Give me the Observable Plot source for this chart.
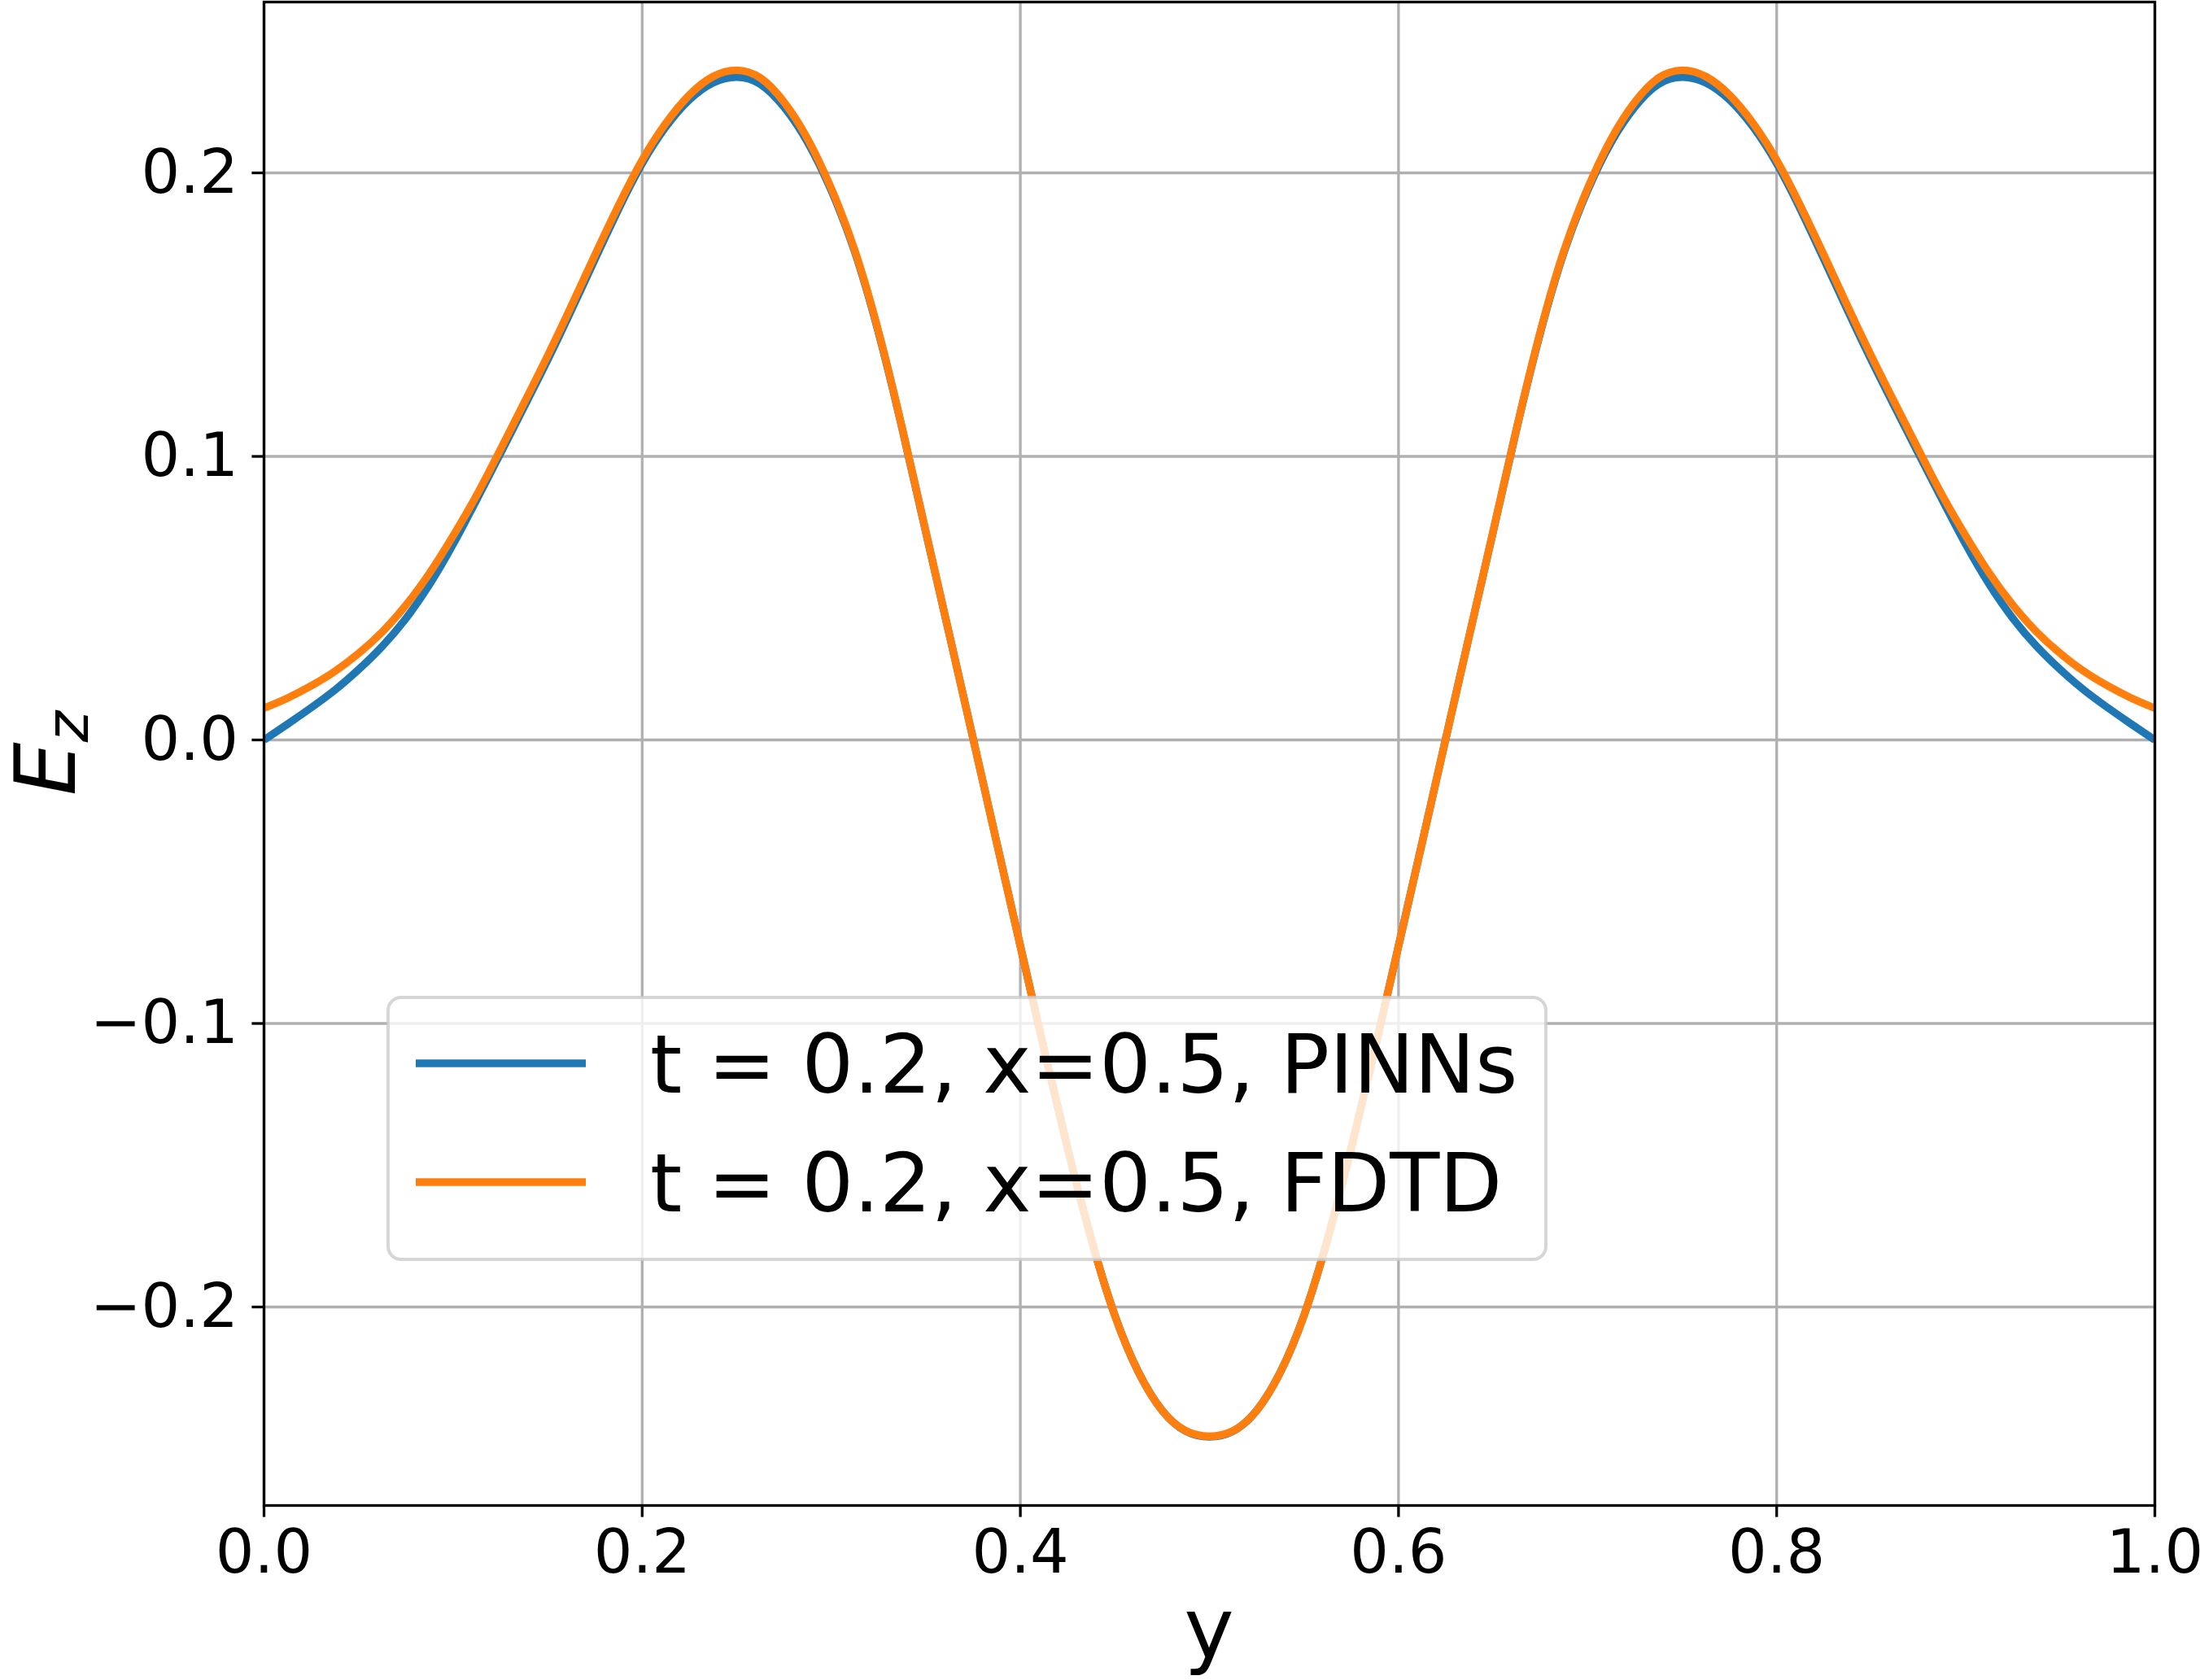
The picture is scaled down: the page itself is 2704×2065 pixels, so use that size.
<!DOCTYPE html>
<html><head><meta charset="utf-8">
<script src="https://cdn.jsdelivr.net/npm/d3@7"></script>
<script src="https://cdn.jsdelivr.net/npm/@observablehq/plot@0.6"></script>
<style>html,body{margin:0;padding:0;background:#fff;overflow:hidden;} #chart{width:2704px;height:2065px;}</style>
</head><body><div id="chart"></div>
<script>
// ---- data ----
const yPos = [0.0000,0.0125,0.0250,0.0375,0.0500,0.0625,0.0750,0.0875,0.1000,0.1125,0.1250,0.1375,0.1500,0.1625,0.1750,0.1875,0.2000,0.2125,0.2250,0.2375,
              0.2500,0.2625,0.2750,0.2875,0.3000,0.3125,0.3250,0.3375,0.3500,0.3625,0.3750,0.3875,0.4000,0.4125,0.4250,0.4375,0.4500,0.4625,0.4750,0.4875,
              0.5000,0.5125,0.5250,0.5375,0.5500,0.5625,0.5750,0.5875,0.6000,0.6125,0.6250,0.6375,0.6500,0.6625,0.6750,0.6875,0.7000,0.7125,0.7250,0.7375,
              0.7500,0.7625,0.7750,0.7875,0.8000,0.8125,0.8250,0.8375,0.8500,0.8625,0.8750,0.8875,0.9000,0.9125,0.9250,0.9375,0.9500,0.9625,0.9750,0.9875,1.0000];
const pinns = [0.0000,0.0056,0.0114,0.0176,0.0248,0.0330,0.0428,0.0548,0.0690,0.0848,0.1010,0.1174,0.1340,0.1515,0.1695,0.1872,0.2033,0.2162,0.2258,0.2318,
               0.2338,0.2313,0.2232,0.2108,0.1938,0.1720,0.1436,0.1098,0.0733,0.0370,0.0005,-0.0362,-0.0727,-0.1090,-0.1440,-0.1760,-0.2030,-0.2230,-0.2365,-0.2438,
               -0.2458,-0.2438,-0.2365,-0.2230,-0.2030,-0.1760,-0.1440,-0.1090,-0.0727,-0.0362,0.0005,0.0370,0.0733,0.1098,0.1436,0.1720,0.1938,0.2108,0.2232,0.2313,
               0.2338,0.2318,0.2258,0.2162,0.2033,0.1872,0.1695,0.1515,0.1340,0.1174,0.1010,0.0848,0.0690,0.0548,0.0428,0.0330,0.0248,0.0176,0.0114,0.0056,0.0000];
const fdtd = [0.0112,0.0148,0.0191,0.0242,0.0305,0.0381,0.0475,0.0588,0.0720,0.0864,0.1024,0.1188,0.1355,0.1530,0.1710,0.1885,0.2045,0.2175,0.2275,0.2340,
              0.2362,0.2335,0.2250,0.2120,0.1945,0.1725,0.1440,0.1100,0.0735,0.0370,0.0005,-0.0362,-0.0727,-0.1090,-0.1440,-0.1760,-0.2030,-0.2230,-0.2365,-0.2437,
              -0.2456,-0.2437,-0.2365,-0.2230,-0.2030,-0.1760,-0.1440,-0.1090,-0.0727,-0.0362,0.0005,0.0370,0.0735,0.1100,0.1440,0.1725,0.1945,0.2120,0.2250,0.2335,
              0.2362,0.2340,0.2275,0.2175,0.2045,0.1885,0.1710,0.1530,0.1355,0.1188,0.1024,0.0864,0.0720,0.0588,0.0475,0.0381,0.0305,0.0242,0.0191,0.0148,0.0112];
const seriesNames = ["t = 0.2, x=0.5, PINNs", "t = 0.2, x=0.5, FDTD"];
const seriesColors = ["#1f77b4", "#ff7f0e"];
const xTicks = [0, 0.2, 0.4, 0.6, 0.8, 1.0];
const yTicks = [-0.2, -0.1, 0.0, 0.1, 0.2];
const xDomain = [0, 1];
const yDomain = [-0.27001, 0.26026];
const xLabel = "y";
const yLabelMain = "E", yLabelSub = "z";

// ---- build table ----
const rows = [];
[pinns, fdtd].forEach((vals, k) => {
  yPos.forEach((p, i) => rows.push({pos: p, val: vals[i], series: seriesNames[k]}));
});

const W = 2704, H = 2065;
const mL = 324, mR = 56, mT = 2, mB = 215;

const chart = Plot.plot({
  width: W, height: H,
  marginLeft: mL, marginRight: mR, marginTop: mT, marginBottom: mB,
  style: {fontFamily: "DejaVu Sans", background: "white", color: "black", overflow: "visible"},
  x: {domain: xDomain},
  y: {domain: yDomain},
  color: {domain: seriesNames, range: seriesColors},
  marks: [
    Plot.gridX(xTicks, {stroke: "#b0b0b0", strokeOpacity: 1, strokeWidth: 3.3}),
    Plot.gridY(yTicks, {stroke: "#b0b0b0", strokeOpacity: 1, strokeWidth: 3.3}),
    Plot.line(rows, {x: "pos", y: "val", z: "series", stroke: "series", strokeWidth: 9.4, curve: "natural", clip: true, strokeLinejoin: "round", strokeLinecap: "butt"}),
    Plot.frame({stroke: "black", strokeWidth: 3.3}),
    Plot.axisX(xTicks, {tickFormat: d3.format(".1f"), tickSize: 14.6, tickPadding: 15, fontSize: 75, strokeWidth: 3.3, label: null}),
    Plot.axisY(yTicks, {tickFormat: d3.format(".1f"), tickSize: 14.6, tickPadding: 17, fontSize: 75, strokeWidth: 3.3, label: null})
  ]
});

const svg = d3.select(chart);

// axis labels
svg.append("text")
  .attr("x", mL + (W - mL - mR) / 2).attr("y", 2037)
  .attr("text-anchor", "middle")
  .attr("font-family", "DejaVu Sans").attr("font-size", 104).attr("fill", "black")
  .text(xLabel);

const yl = svg.append("text")
  .attr("transform", `translate(92,${mT + (H - mT - mB) / 2}) rotate(-90)`)
  .attr("text-anchor", "middle")
  .attr("font-family", "DejaVu Sans").attr("font-size", 104).attr("fill", "black");
yl.append("tspan").attr("font-style", "italic").text(yLabelMain);
yl.append("tspan").attr("font-style", "italic").attr("font-size", 73).attr("dy", 16).text(yLabelSub);

// legend
const lg = svg.append("g");
lg.append("rect")
  .attr("x", 477).attr("y", 1226).attr("width", 1423).attr("height", 322)
  .attr("rx", 16).attr("ry", 16)
  .attr("fill", "white").attr("fill-opacity", 0.8)
  .attr("stroke", "#cccccc").attr("stroke-opacity", 0.8).attr("stroke-width", 4);
const rowY = [1307, 1453];
seriesNames.forEach((name, i) => {
  lg.append("line")
    .attr("x1", 511).attr("x2", 720).attr("y1", rowY[i]).attr("y2", rowY[i])
    .attr("stroke", seriesColors[i]).attr("stroke-width", 9.4);
  lg.append("text")
    .attr("x", 799).attr("y", rowY[i] + 36)
    .attr("text-anchor", "start")
    .attr("font-family", "DejaVu Sans").attr("font-size", 100).attr("fill", "black")
    .text(name);
});

document.getElementById("chart").appendChild(chart);
</script>
</body></html>
